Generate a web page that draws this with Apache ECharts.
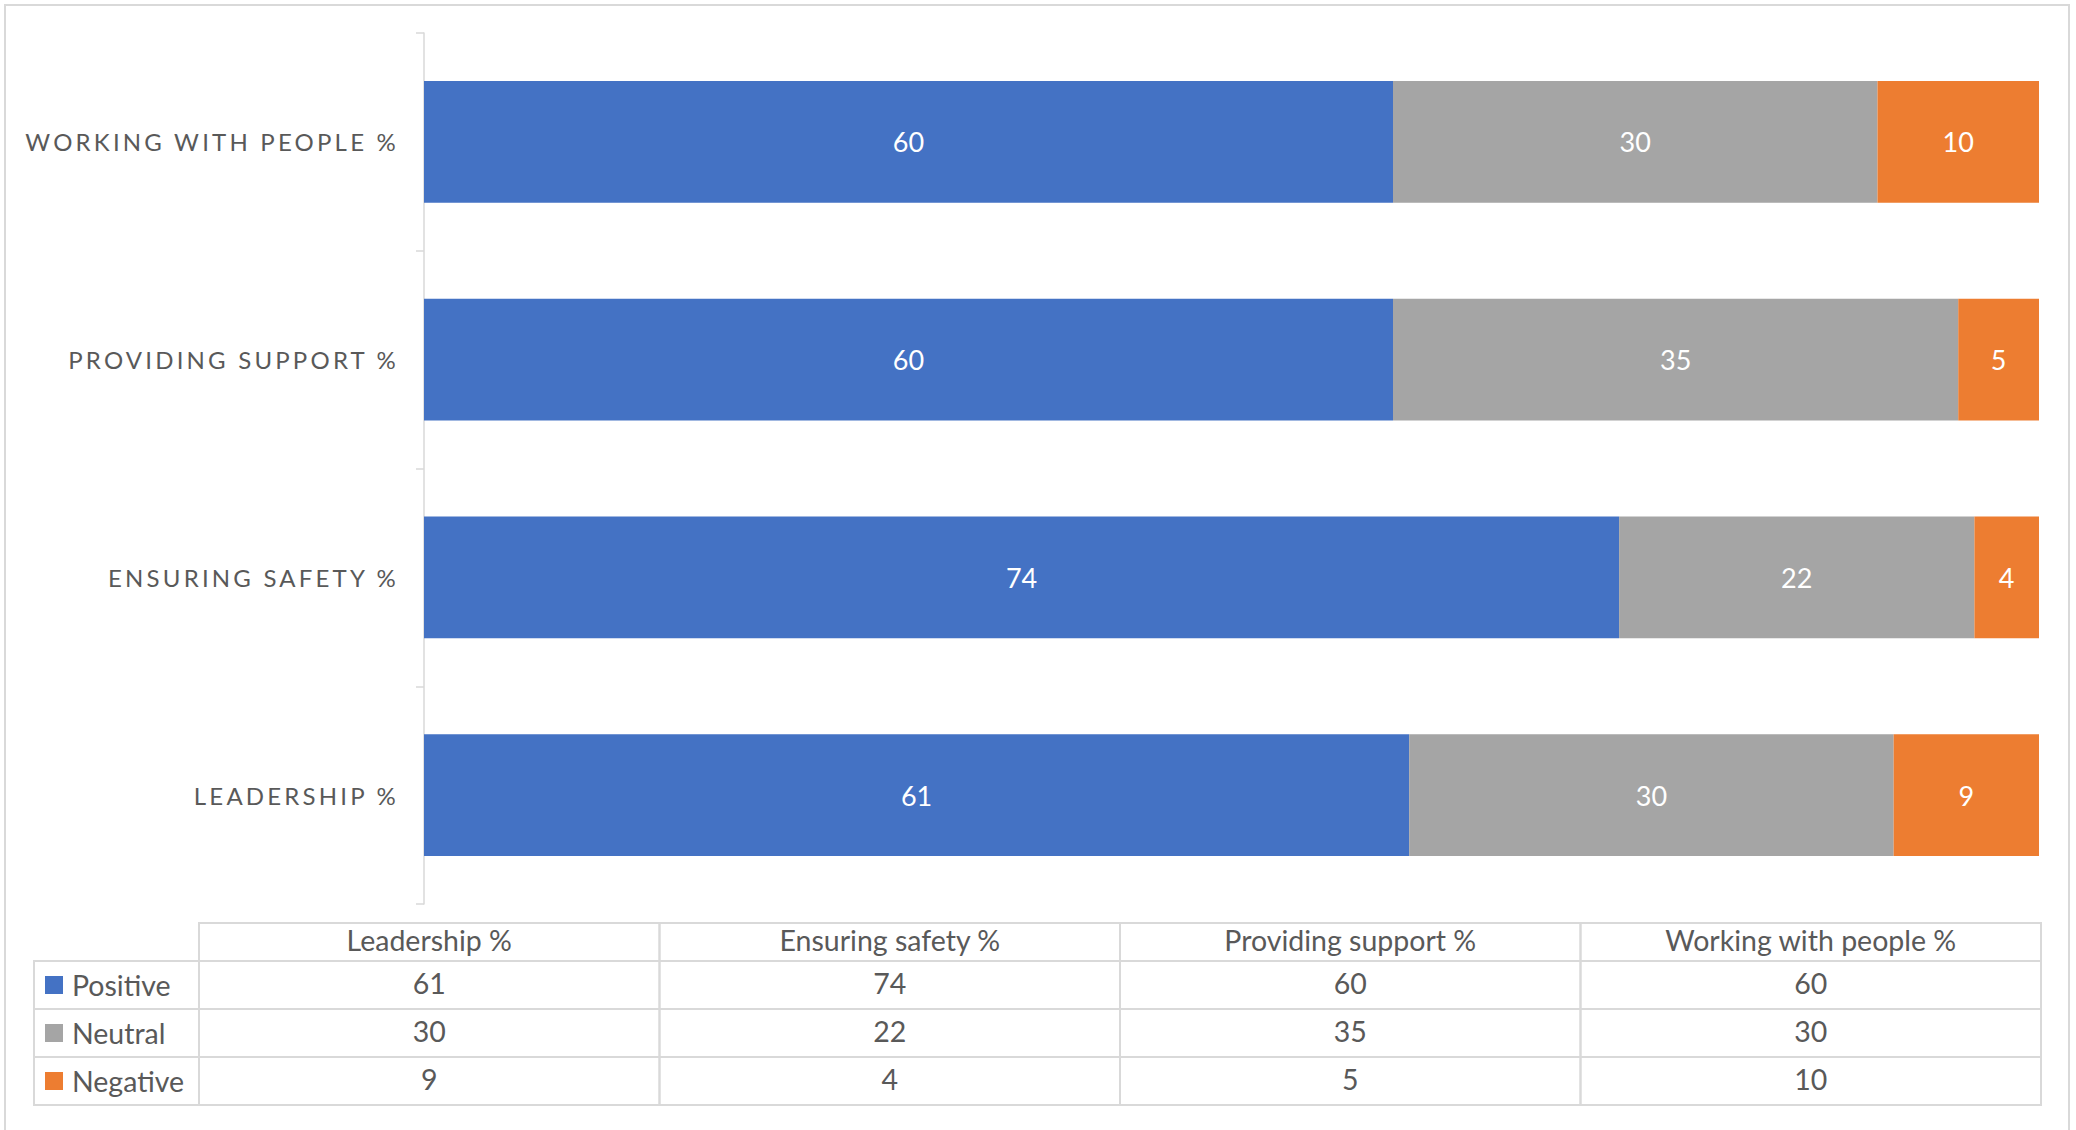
<!DOCTYPE html>
<html>
<head>
<meta charset="utf-8">
<script src="https://cdn.jsdelivr.net/npm/echarts@6/dist/echarts.min.js"></script>
<style>
html,body{margin:0;padding:0;background:#fff;}
#chart{width:2076px;height:1130px;}
</style>
</head>
<body>
<div id="chart"></div>
<script>
// ---- data ----
const categories = ['Leadership %', 'Ensuring safety %', 'Providing support %', 'Working with people %'];
const seriesNames = ['Positive', 'Neutral', 'Negative'];
const positive = [61, 74, 60, 60];
const neutral = [30, 22, 35, 30];
const negative = [9, 4, 5, 10];

// ---- style ----
const colors = ['#4472C4', '#A5A5A5', '#ED7D31'];
const TEXT = '#595959';
const LINE = '#D9D9D9';
const FONT = 'Lato';
const HEADER_H = 38;
const LEGEND_W = 165;
const LETTER_SPACING = '3.2px';

const rows = [positive, neutral, negative];
const tableData = [];
rows.forEach((vals, r) => vals.forEach((v, c) => tableData.push([c, r, v])));

const chart = echarts.init(document.getElementById('chart'), null, { renderer: 'svg' });

const barSeries = rows.map((vals, i) => ({
  name: seriesNames[i],
  type: 'bar',
  stack: 'total',
  xAxisIndex: 0,
  yAxisIndex: 0,
  barCategoryGap: '44%',
  itemStyle: { color: colors[i] },
  label: {
    show: true,
    position: 'inside',
    color: '#fff',
    fontFamily: FONT,
    fontSize: 27
  },
  data: vals
}));

const upperLabels = new Set(categories.map(c => c.toUpperCase()));

const option = {
  animation: false,
  backgroundColor: '#fff',
  textStyle: { fontFamily: FONT },
  graphic: [{
    type: 'rect',
    shape: { x: 5, y: 5, width: 2064, height: 1200 },
    style: { fill: 'transparent', stroke: LINE, lineWidth: 2 },
    z: -1,
    silent: true
  }],
  grid: [
    { left: 424, right: 37, top: 33, bottom: 226 },
    { left: 199, right: 35, top: 961, bottom: 25 }
  ],
  xAxis: [
    { gridIndex: 0, type: 'value', min: 0, max: 100, show: false },
    {
      gridIndex: 1, type: 'category', data: categories, position: 'top',
      axisLine: { show: false }, axisTick: { show: false }, splitLine: { show: false },
      axisLabel: { color: TEXT, fontFamily: FONT, fontSize: 28.5, margin: 21, verticalAlign: 'middle', interval: 0 }
    }
  ],
  yAxis: [
    {
      gridIndex: 0, type: 'category', data: categories,
      axisLine: { show: true, lineStyle: { color: LINE, width: 1.5 } },
      axisTick: { show: true, length: 8, lineStyle: { color: LINE, width: 1.5 } },
      axisLabel: {
        color: TEXT, fontFamily: FONT, fontSize: 24, margin: 25,
        formatter: v => v.toUpperCase()
      }
    },
    {
      gridIndex: 1, type: 'category', data: seriesNames, inverse: true,
      axisLine: { show: false }, axisTick: { show: false }, splitLine: { show: false },
      axisLabel: {
        align: 'left', margin: 154,
        formatter: (v, i) => '{s' + i + '|}{t|' + v + '}',
        rich: {
          s0: { width: 18, height: 18, backgroundColor: colors[0] },
          s1: { width: 18, height: 18, backgroundColor: colors[1] },
          s2: { width: 18, height: 18, backgroundColor: colors[2] },
          t: { color: TEXT, fontFamily: FONT, fontSize: 28.5, padding: [0, 0, 0, 9] }
        }
      }
    }
  ],
  series: barSeries.concat([{
    type: 'custom',
    xAxisIndex: 1,
    yAxisIndex: 1,
    data: tableData,
    silent: true,
    renderItem: function (params, api) {
      const c = api.value(0), r = api.value(1);
      const p = api.coord([c, r]);
      const s = api.size([1, 1]);
      const x = p[0] - s[0] / 2, y = p[1] - s[1] / 2, w = s[0], h = s[1];
      const lineStyle = { fill: 'none', stroke: LINE, lineWidth: 2 };
      const children = [
        { type: 'rect', shape: { x: x, y: y, width: w, height: h }, style: lineStyle },
        { type: 'text', style: { text: String(api.value(2)), x: p[0], y: p[1] - 2, align: 'center', verticalAlign: 'middle', fill: TEXT, fontFamily: FONT, fontSize: 28.5 } }
      ];
      if (r === 0) {
        children.push({ type: 'rect', shape: { x: x, y: y - HEADER_H, width: w, height: HEADER_H }, style: lineStyle });
      }
      if (c === 0) {
        children.push({ type: 'rect', shape: { x: x - LEGEND_W, y: y, width: LEGEND_W, height: h }, style: lineStyle });
      }
      return { type: 'group', children: children };
    }
  }])
};

function applySpacing() {
  document.querySelectorAll('#chart svg text').forEach(t => {
    if (upperLabels.has(t.textContent.trim())) {
      t.style.letterSpacing = LETTER_SPACING;
    }
  });
}
chart.on('finished', applySpacing);
chart.setOption(option);
applySpacing();
requestAnimationFrame(() => { applySpacing(); requestAnimationFrame(applySpacing); });
setTimeout(applySpacing, 50);
</script>
</body>
</html>
